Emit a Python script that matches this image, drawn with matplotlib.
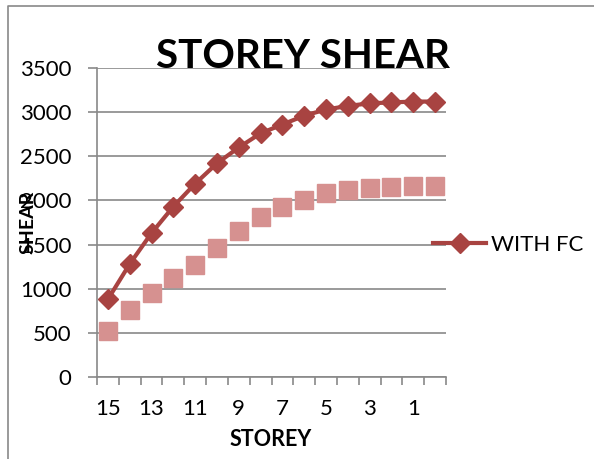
import matplotlib.pyplot as plt
from matplotlib.lines import Line2D
import numpy as np

# storey numbers (top -> bottom) and shear values
storeys = ['15', '14', '13', '12', '11', '10', '9', '8', '7', '6', '5', '4', '3', '2', '1', '0']
with_fc = [880, 1280, 1630, 1930, 2190, 2420, 2600, 2760, 2860, 2960, 3030, 3070, 3100, 3110, 3120, 3120]
without_fc = [520, 760, 950, 1120, 1270, 1460, 1650, 1810, 1930, 2010, 2080, 2115, 2140, 2150, 2160, 2160]
y_ticks = [0, 500, 1000, 1500, 2000, 2500, 3000, 3500]

plt.rcParams['font.family'] = ['Lato', 'DejaVu Sans']

W, H = 594, 459
fig = plt.figure(figsize=(W / 100, H / 100), dpi=100)
ax = fig.add_axes([97 / W, 1 - 377 / H, (446 - 97) / W, (377 - 68) / H])

grid_col = '#898989'
red = '#A84341'
pink = '#D69190'

x = np.arange(len(storeys))
ax.plot(x, without_fc, color=pink, lw=0, marker='s', markersize=12.5, zorder=3)
ax.plot(x, with_fc, color=red, lw=3, marker='D', markersize=10.5, label='WITH FC', zorder=4)

ax.set_xlim(-0.5, len(storeys) - 0.5)
ax.set_ylim(0, 3500)
ax.set_yticks(y_ticks)
ax.yaxis.grid(True, color=grid_col, lw=1.2)
ax.set_axisbelow(True)

# labels every other storey, tick marks on category boundaries
ax.set_xticks(x[::2])
ax.set_xticklabels(storeys[::2])
ax.set_xticks(np.arange(-0.5, len(storeys)), minor=True)
ax.tick_params(axis='x', which='major', length=0, pad=16, labelsize=16)
ax.tick_params(axis='x', which='minor', length=6, color=grid_col, width=1.2)
ax.tick_params(axis='y', length=6.5, color=grid_col, width=1.2, pad=12, labelsize=16)

for s in ['top', 'right']:
    ax.spines[s].set_visible(False)
for s in ['left', 'bottom']:
    ax.spines[s].set_color(grid_col)
    ax.spines[s].set_linewidth(1.2)

fig.text(303 / W, 1 - 57 / H, 'STOREY SHEAR', fontsize=29, fontweight='bold',
         ha='center', va='center')
fig.text(271 / W, 1 - 440 / H, 'STOREY', fontsize=15.5, fontweight='bold',
         ha='center', va='center')
fig.text(28 / W, 1 - 222 / H, 'SHEAR', fontsize=14, fontweight='bold',
         ha='center', va='center', rotation=90)

fig.legend(loc='center left', bbox_to_anchor=(433 / W, 1 - 245 / H), frameon=False,
           fontsize=16, handlelength=2.4, handletextpad=0.2, borderpad=0, borderaxespad=0)

# outer chart border (only top and left edges are visible)
fig.add_artist(Line2D([8 / W, 8 / W, 1.0], [0.0, 1 - 6 / H, 1 - 6 / H],
                      color=grid_col, lw=1.2, transform=fig.transFigure))

plt.savefig('out.png', dpi=100)
